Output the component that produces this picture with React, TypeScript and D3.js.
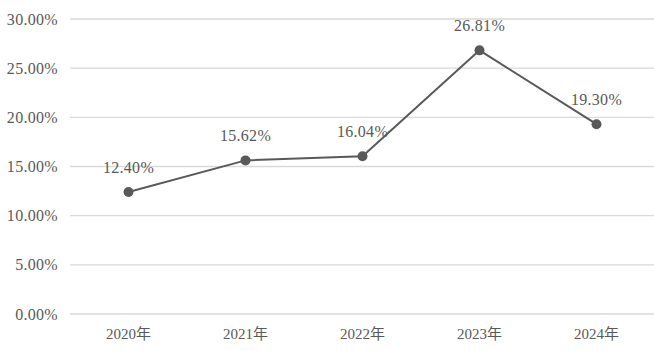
import React from "react";
import * as d3 from "d3";

const years = ["2020年", "2021年", "2022年", "2023年", "2024年"];
const rates = [12.4, 15.62, 16.04, 26.81, 19.3];
const yTicks = [0, 5, 10, 15, 20, 25, 30];

const W = 654;
const H = 351;
const left = 70;
const right = 655;
const top = 19;
const bottom = 314;
const color = "#595959";
const font = "'Liberation Serif', 'Noto Sans CJK SC', serif";

export default function App() {
  const x = d3.scaleBand<string>().domain(years).range([left, right]);
  const y = d3.scaleLinear().domain([0, 30]).range([bottom, top]);
  const line = d3
    .line<number>()
    .x((_, i) => (x(years[i]) as number) + x.bandwidth() / 2)
    .y((d) => y(d));

  return (
    <svg
      width={W}
      height={H}
      style={{ position: "absolute", left: 0, top: 0, background: "#fff" }}
    >
      {yTicks.map((t) => (
        <g key={t}>
          <line x1={left} x2={right} y1={y(t)} y2={y(t)} stroke="#d9d9d9" strokeWidth={1.3} />
          <text
            x={58}
            y={y(t)}
            dy="0.35em"
            textAnchor="end"
            fontFamily={font}
            fontSize={16}
            letterSpacing={0.3}
            fill={color}
          >
            {t.toFixed(2)}%
          </text>
        </g>
      ))}
      {years.map((c) => (
        <text
          key={c}
          x={(x(c) as number) + x.bandwidth() / 2}
          y={334}
          dy="0.35em"
          textAnchor="middle"
          fontFamily={font}
          fontSize={15}
          fill={color}
        >
          {c}
        </text>
      ))}
      <path d={line(rates) || ""} fill="none" stroke={color} strokeWidth={2} />
      {rates.map((v, i) => {
        const cx = (x(years[i]) as number) + x.bandwidth() / 2;
        return (
          <g key={i}>
            <circle cx={cx} cy={y(v)} r={5} fill={color} />
            <text
              x={cx}
              y={y(v) - 25}
              dy="0.35em"
              textAnchor="middle"
              fontFamily={font}
              fontSize={16}
              letterSpacing={0.3}
              fill={color}
            >
              {v.toFixed(2)}%
            </text>
          </g>
        );
      })}
    </svg>
  );
}
